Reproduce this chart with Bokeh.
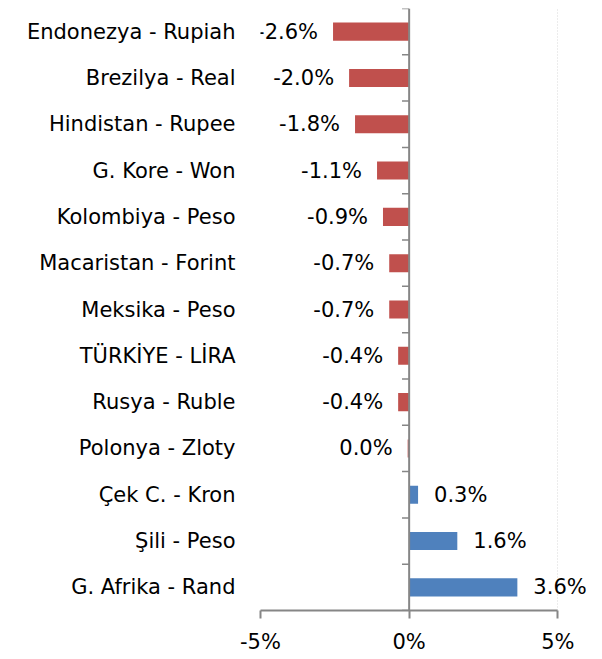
from bokeh.plotting import figure
from bokeh.models import ColumnDataSource, FixedTicker
from bokeh.core.properties import value
from bokeh.embed import file_html
from bokeh.resources import INLINE

categories = ["Endonezya - Rupiah", "Brezilya - Real", "Hindistan - Rupee", "G. Kore - Won",
              "Kolombiya - Peso", "Macaristan - Forint", "Meksika - Peso", "TÜRKİYE - LİRA",
              "Rusya - Ruble", "Polonya - Zloty", "Çek C. - Kron", "Şili - Peso", "G. Afrika - Rand"]
values = [-2.56, -2.02, -1.82, -1.08, -0.88, -0.67, -0.67, -0.37, -0.37, -0.05, 0.3, 1.62, 3.64]
value_labels = ["-2.6%", "-2.0%", "-1.8%", "-1.1%", "-0.9%", "-0.7%", "-0.7%", "-0.4%",
                "-0.4%", "0.0%", "0.3%", "1.6%", "3.6%"]
x_ticks = [-5, 0, 5]
x_tick_labels = ["-5%", "0%", "5%"]

RED = "#C0504D"
BLUE = "#4F81BD"
AXIS = "#868686"
FONT = "DejaVu Sans"
FS = "21px"

n = len(categories)
ypos = [n - 1 - i for i in range(n)]

p = figure(width=594, height=656, output_backend="svg", toolbar_location=None,
           x_range=(-5, 6.1), y_range=(-0.5, n - 0.5),
           min_border_left=260, min_border_right=4, min_border_top=8, min_border_bottom=42)
p.outline_line_color = None
p.background_fill_color = "white"

neg = [i for i in range(n) if values[i] < 0]
pos = [i for i in range(n) if values[i] >= 0]
src_neg = ColumnDataSource(dict(y=[ypos[i] for i in neg], v=[values[i] for i in neg],
                                lab=[value_labels[i] for i in neg]))
src_pos = ColumnDataSource(dict(y=[ypos[i] for i in pos], v=[values[i] for i in pos],
                                lab=[value_labels[i] for i in pos]))
p.hbar(y="y", left=0, right="v", height=0.39, source=src_neg, fill_color=RED, line_color=None)
p.hbar(y="y", left=0, right="v", height=0.39, source=src_pos, fill_color=BLUE, line_color=None)

p.text(x="v", y="y", text="lab", source=src_neg, text_align="right", text_baseline="middle",
       x_offset=-15, text_font=value(FONT), text_font_size=FS, text_color="#000000")
p.text(x="v", y="y", text="lab", source=src_pos, text_align="left", text_baseline="middle",
       x_offset=16, text_font=value(FONT), text_font_size=FS, text_color="#000000")

p.segment(x0=[0], y0=[-0.5], x1=[0], y1=[n - 0.5], line_color=AXIS, line_width=2)
bounds = [k + 0.5 for k in range(-1, n)]
p.segment(x0=[-0.24] * len(bounds), y0=bounds, x1=[0] * len(bounds), y1=bounds,
          line_color=AXIS, line_width=1.5)

xa = p.xaxis[0]
xa.ticker = FixedTicker(ticks=x_ticks)
xa.bounds = (-5, 5)
xa.major_label_overrides = {t: l for t, l in zip(x_ticks, x_tick_labels)}
xa.axis_line_color = AXIS
xa.axis_line_width = 2
xa.major_tick_line_color = AXIS
xa.major_tick_line_width = 2
xa.major_tick_out = 8
xa.major_tick_in = 0
xa.minor_tick_line_color = None
xa.major_label_text_font = FONT
xa.major_label_text_font_size = FS
xa.major_label_text_color = "#000000"
xa.major_label_standoff = 11

ya = p.yaxis[0]
ya.ticker = FixedTicker(ticks=ypos)
ya.major_label_overrides = {ypos[i]: categories[i] for i in range(n)}
ya.axis_line_color = None
ya.major_tick_line_color = None
ya.minor_tick_line_color = None
ya.major_label_text_font = FONT
ya.major_label_text_font_size = FS
ya.major_label_text_color = "#000000"
ya.major_label_standoff = 19

p.xgrid.ticker = FixedTicker(ticks=x_ticks)
p.xgrid.grid_line_color = "#D9D9D9"
p.xgrid.grid_line_dash = "1 2"
p.ygrid.grid_line_color = None

open("out.html", "w").write(file_html(p, INLINE))
